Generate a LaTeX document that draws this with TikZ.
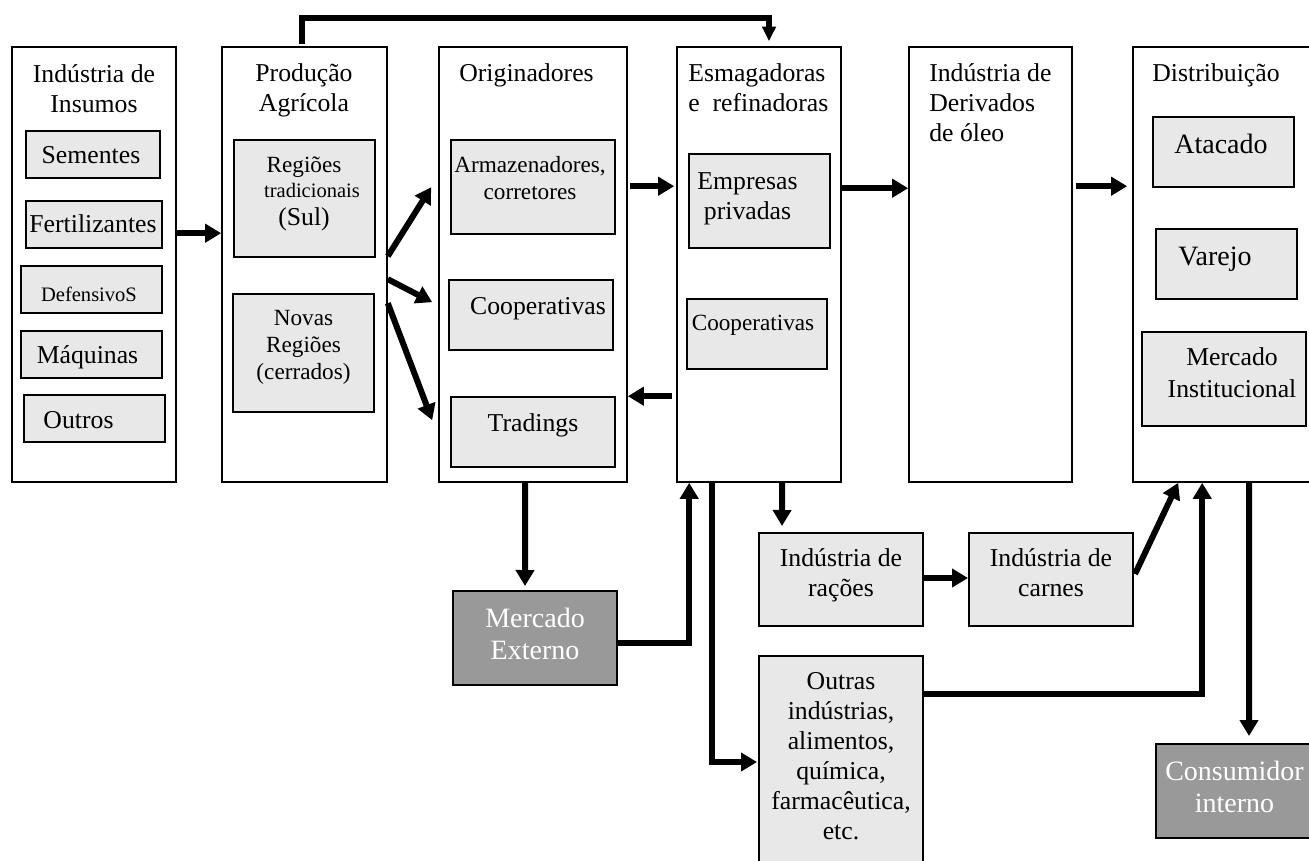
\documentclass[tikz,border=0pt]{standalone}
\usepackage{fontspec}
\setmainfont{Liberation Serif}
\usetikzlibrary{arrows.meta,fit,calc}
\definecolor{subfill}{HTML}{E8E8E8}
\definecolor{darkfill}{HTML}{999999}
% multi-line text whose baseline is the first line
\newcommand\mlines[2][c]{\begin{tabular}[t]{@{}#1@{}}#2\end{tabular}}
\newcommand\fsBase{\fontsize{19.3}{22.5}\selectfont}
\newcommand\fsMid{\fontsize{17.4}{20.5}\selectfont}
\newcommand\fsSmall{\fontsize{15.4}{18}\selectfont}
\newcommand\fsBig{\fontsize{21}{24.5}\selectfont}
\begin{document}
\begin{tikzpicture}[x=0.75pt,y=-0.75pt,
  column/.style={draw=black, line width=1.2pt, fill=white, inner sep=0pt},
  sub/.style={draw=black, line width=1.5pt, fill=subfill, inner sep=0pt},
  dark/.style={draw=black, line width=1.5pt, fill=darkfill, inner sep=0pt},
  txt/.style={inner sep=0pt, anchor=base, font=\fsBase},
  flow/.style={line width=4.5pt, line join=miter, -{Triangle[length=12pt,width=13.5pt]}},
  flowthin/.style={line width=4.5pt, line join=miter, -{Triangle[length=11pt,width=10pt]}}]
\useasboundingbox (0,0) rectangle (1309,860);
\fill[white] (0,0) rectangle (1309,860);
\clip (0,0) rectangle (1309,860);

% columns of the chain
\node[column, fit={(12,47) (176,482)}] (ins) {};
\node[column, fit={(222,47) (387,482)}] (prod) {};
\node[column, fit={(439,47) (627,482)}] (ori) {};
\node[column, fit={(677,47) (841,482)}] (esm) {};
\node[column, fit={(909,47) (1072,482)}] (der) {};
\node[column, fit={(1133,47) (1318,482)}] (dist) {};

% boxes inside the columns
\node[sub, fit={(26,131) (160,178)}] (sem) {};
\node[sub, fit={(26,201) (162,248)}] (fer) {};
\node[sub, fit={(21,266) (162,313)}] (def) {};
\node[sub, fit={(21,331) (162,378)}] (maq) {};
\node[sub, fit={(24,395) (165,442)}] (out) {};
\node[sub, fit={(234,140) (375,257)}] (rtr) {};
\node[sub, fit={(233,294) (374,412)}] (nrg) {};
\node[sub, fit={(451,140) (615,234)}] (arm) {};
\node[sub, fit={(449,280) (613,350)}] (coo) {};
\node[sub, fit={(451,397) (615,467)}] (trd) {};
\node[sub, fit={(689,154) (830,248)}] (emp) {};
\node[sub, fit={(687,299) (827,369)}] (ces) {};
\node[sub, fit={(1153,117) (1294,187)}] (ata) {};
\node[sub, fit={(1156,229) (1297,299)}] (var) {};
\node[sub, fit={(1142,332) (1306,426)}] (min) {};

% lower boxes
\node[sub, fit={(759,533) (923,626)}] (rac) {};
\node[sub, fit={(969,533) (1133,626)}] (car) {};
\node[sub, fit={(759,656) (923,885)}] (oth) {};
\node[dark, fit={(453,591) (617,685)}] (mex) {};
\node[dark, fit={(1156,744) (1322,838)}] (con) {};

% texts
\node[txt] (t-ins) at (94,82) {\mlines{Indústria de\\Insumos}};
\node[txt] (t-sem) at (91,163) {Sementes};
\node[txt] (t-fer) at (93,232) {Fertilizantes};
\node[txt, font=\fsSmall] (t-def) at (89,301) {DefensivoS};
\node[txt] (t-maq) at (87.5,363) {Máquinas};
\node[txt] (t-out) at (78.5,428) {Outros};
\node[txt] (t-prod) at (304,81) {\mlines{Produção\\Agrícola}};
\node[txt, font=\fsMid] (t-rtr1) at (304,172) {Regiões};
\node[txt, font=\fsSmall] (t-rtr2) at (312,197) {tradicionais};
\node[txt] (t-rtr3) at (304,225) {(Sul)};
\node[txt, font=\fsMid] (t-nrg) at (303.5,325) {\mlines{Novas\\Regiões\\(cerrados)}};
\node[txt] (t-ori) at (526.5,81) {Originadores};
\node[txt, font=\fsMid] (t-arm) at (530,172) {\mlines{Armazenadores,\\corretores}};
\node[txt] (t-coo) at (538,314) {Cooperativas};
\node[txt] (t-trd) at (533,431) {Tradings};
\node[txt, anchor=base west] (t-esm) at (688,81) {\mlines[l]{Esmagadoras\\e\ \ refinadoras}};
\node[txt] (t-emp) at (747.5,189) {\mlines{Empresas\\privadas}};
\node[txt, font=\fsMid] (t-ces) at (753,330) {Cooperativas};
\node[txt, anchor=base west] (t-der) at (929,81) {\mlines[l]{Indústria de\\Derivados\\de óleo}};
\node[txt] (t-dist) at (1216,81) {Distribuição};
\node[txt, font=\fsBig] (t-ata) at (1221,153) {Atacado};
\node[txt, font=\fsBig] (t-var) at (1215,265) {Varejo};
\node[txt] (t-min) at (1232,365) {\mlines{Mercado\\[1.5pt]Institucional}};
\node[txt, font=\fsBig, text=white] (t-mex) at (535,627) {\mlines{Mercado\\Externo}};
\node[txt] (t-rac) at (841,566) {\mlines{Indústria de\\rações}};
\node[txt] (t-car) at (1051,566) {\mlines{Indústria de\\carnes}};
\node[txt] (t-oth) at (841,689) {\mlines{Outras\\indústrias,\\alimentos,\\química,\\farmacêutica,\\etc.}};
\node[txt, font=\fsBig, text=white] (t-con) at (1234.5,780) {\mlines{Consumidor\\interno}};

% flows
\draw[flow] ($(ins.north east)+(0,187)$) -- ($(prod.north west)+(0,187)$);
\draw[flowthin] ($(prod.north)+(-2.5,-2)$) -- ($(prod.north)+(-2.5,-28)$) -| ($(esm.north)+(10,-5)$);
\draw[flow] ($(prod.north east)+(0,210)$) -- ($(ori.north west)+(-7,141)$);
\draw[flow] ($(prod.north east)+(0,233)$) -- ($(ori.north west)+(-6,256)$);
\draw[flow] ($(prod.north east)+(0,257)$) -- ($(ori.north west)+(-6,374)$);
\draw[flow] ($(ori.north east)+(2,140)$) -- ($(esm.north west)+(-2,140)$);
\draw[flow] ($(esm.north west)+(-4,350)$) -- ($(ori.north east)+(0,350)$);
\draw[flow] ($(esm.north east)+(0,142)$) -- ($(der.north west)+(0,142)$);
\draw[flow] ($(der.north east)+(3,140)$) -- ($(dist.north west)+(-5,140)$);
\draw[flow] ($(ori.south west)+(87,0)$) -- ($(mex.north west)+(73,-4)$);
\draw[flow] ($(mex.north east)+(0,53)$) -| ($(esm.south west)+(13,0)$);
\draw[flow] ($(esm.south west)+(36,0)$) |- ($(oth.north west)+(-1,107)$);
\draw[flow] ($(esm.south west)+(106,0)$) -- ($(rac.north west)+(24,-6)$);
\draw[flow] ($(rac.north east)+(0,46)$) -- ($(car.north west)+(0,46)$);
\draw[flow] ($(car.north east)+(1,42)$) -- ($(dist.south west)+(46,0)$);
\draw[flow] ($(oth.north east)+(0,39)$) -| ($(dist.south west)+(70,0)$);
\draw[flow] ($(dist.south west)+(117,0)$) -- ($(con.north west)+(94,-7)$);
\end{tikzpicture}
\end{document}
